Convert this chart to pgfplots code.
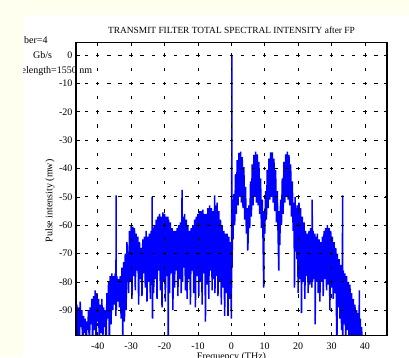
\documentclass[border=0pt]{standalone}
\usepackage{pgfplots}
\pgfplotsset{compat=1.18}
\usepackage{fontspec}
\setmainfont{Liberation Serif}
\definecolor{cream}{RGB}{255,255,240}
\definecolor{mblue}{RGB}{0,0,255}
\pgfplotstableread{
x y
-46.50 -95
-46.25 -88
-46.00 -99
-45.75 -89
-45.50 -103
-45.25 -87
-45.00 -96
-44.75 -90
-44.50 -104
-44.25 -92
-44.00 -98
-43.75 -93
-43.50 -105
-43.25 -94
-43.00 -97
-42.75 -90
-42.50 -104
-42.25 -89
-42.00 -95
-41.75 -86
-41.50 -103
-41.25 -85
-41.00 -97
-40.75 -83
-40.50 -104
-40.25 -84
-40.00 -94
-39.75 -86
-39.50 -105
-39.25 -88
-39.00 -98
-38.75 -86
-38.50 -103
-38.25 -89
-38.00 -96
-37.75 -90
-37.50 -104
-37.25 -84
-37.00 -93
-36.75 -80
-36.50 -105
-36.25 -78
-36.00 -95
-35.75 -77
-35.50 -90
-35.25 -78
-35.00 -88
-34.75 -77
-34.55 -92
-34.50 -49.5
-34.45 -90
-34.25 -78
-34.00 -87
-33.75 -79
-33.50 -89
-33.25 -78
-33.00 -93
-32.75 -75
-32.50 -99
-32.25 -73
-32.00 -94
-31.75 -70
-31.50 -90
-31.25 -66
-30.75 -84
-30.50 -62
-30.25 -80
-30.00 -60
-29.75 -86
-29.50 -60.5
-29.25 -78
-29.00 -61
-28.75 -83
-28.50 -63
-28.25 -76
-28.00 -64
-27.75 -88
-27.50 -66
-27.25 -79
-27.00 -68
-26.75 -85
-26.50 -65
-26.25 -77
-26.00 -64
-25.75 -82
-25.50 -62
-25.25 -87
-25.00 -64
-24.75 -80
-24.50 -63
-24.25 -86
-24.00 -62
-23.80 -78
-23.70 -50
-23.60 -93
-23.50 -61
-23.25 -84
-23.00 -60
-22.75 -79
-22.50 -58
-22.25 -86
-22.00 -57
-21.75 -76
-21.50 -56
-21.25 -83
-21.00 -57
-20.75 -89
-20.50 -55.5
-20.25 -80
-20.00 -56
-19.75 -87
-19.50 -57
-19.25 -78
-19.00 -57
-18.90 -105
-18.75 -58
-18.50 -84
-18.25 -59
-18.00 -77
-17.75 -61
-17.50 -90
-17.25 -62
-17.00 -82
-16.75 -62
-16.50 -76
-16.25 -61
-16.00 -85
-15.75 -60
-15.50 -79
-15.25 -59
-15.00 -84
-14.75 -47.5
-14.60 -80
-14.50 -57
-14.25 -75
-14.00 -56
-13.75 -83
-13.50 -58
-13.25 -86
-13.00 -60
-12.75 -79
-12.50 -62
-12.25 -88
-12.00 -61
-11.75 -76
-11.50 -60
-11.25 -84
-11.00 -58
-10.75 -89
-10.50 -57
-10.25 -78
-10.00 -56
-9.75 -85
-9.50 -55
-9.25 -80
-9.00 -55
-8.75 -88
-8.50 -54.5
-8.25 -77
-8.00 -56
-7.75 -94
-7.50 -56
-7.25 -81
-7.00 -54
-6.75 -86
-6.50 -53
-6.25 -76
-6.00 -54
-5.75 -83
-5.50 -55
-5.25 -79
-5.00 -49.5
-4.90 -84
-4.75 -53
-4.50 -78
-4.25 -52
-4.00 -85
-3.75 -55
-3.50 -80
-3.25 -58
-3.00 -88
-2.75 -60
-2.50 -82
-2.25 -62
-2.00 -92
-1.75 -63
-1.50 -84
-1.25 -63
-1.00 -92
-0.75 -64
-0.50 -86
-0.25 -66
0.00 -93
0.10 -70
0.15 0
0.20 -75
0.35 -62
0.50 -65
0.75 -49
1.00 -60
1.25 -42
1.50 -56
1.75 -37
2.00 -53
2.25 -34.5
2.50 -50
2.75 -34
3.00 -52
3.25 -36
3.50 -54
3.75 -39.5
4.00 -58
4.25 -46.5
4.50 -63
4.75 -54
4.90 -69
5.00 -66
5.25 -53
5.50 -61
5.75 -44.5
6.00 -57
6.25 -38.5
6.50 -53
6.75 -35.2
7.00 -50
7.25 -34
7.50 -52
7.75 -35
8.00 -53
8.25 -37.7
8.50 -56
8.75 -43.5
9.00 -61
9.25 -51
9.50 -66
9.70 -82
9.75 -55
10.00 -63
10.25 -48
10.50 -58
10.75 -40.5
11.00 -54
11.25 -36.5
11.50 -51
11.75 -34.3
12.00 -50
12.25 -34.3
12.50 -52
12.75 -36.5
13.00 -55
13.25 -40.5
13.50 -59
13.75 -48
14.00 -64
14.20 -76
14.25 -55
14.50 -67
14.75 -51
15.00 -60
15.25 -43.5
15.50 -56
15.75 -37.7
16.00 -52
16.25 -35
16.50 -50
16.75 -34
17.00 -51
17.25 -35.2
17.50 -53
17.75 -38.5
18.00 -57
18.25 -44.5
18.50 -62
18.75 -52
18.90 -82
19.10 -50
19.30 -68
19.45 -54
19.60 -72
19.75 -53
20.00 -84
20.25 -52
20.50 -79
20.75 -54
21.00 -91
21.25 -57
21.50 -80
21.75 -59
22.00 -86
22.25 -62
22.50 -78
22.75 -63
23.00 -84
23.25 -62
23.50 -81
23.75 -61
24.10 -82
24.20 -51
24.30 -80
24.50 -62
24.75 -79
25.00 -63
25.10 -95
25.25 -64
25.50 -80
25.75 -63
26.00 -84
26.25 -65
26.50 -87
26.75 -66
27.00 -80
27.25 -64
27.50 -85
27.75 -62
28.00 -79
28.25 -61
28.50 -83
28.75 -60
29.00 -81
29.25 -61
29.50 -90
29.75 -62
30.00 -82
30.25 -64
30.50 -86
30.75 -66
31.00 -84
31.25 -68
31.60 -105
31.75 -70
32.00 -89
32.25 -72
32.50 -93
32.75 -74
33.00 -97
33.25 -75
33.30 -49.5
33.35 -105
33.50 -76
33.75 -95
34.00 -77
34.25 -104
34.50 -78
34.75 -97
35.00 -80
35.25 -105
35.50 -81
35.75 -99
36.00 -84
36.25 -105
36.50 -86
36.75 -103
37.00 -88
37.25 -105
37.50 -90
37.75 -104
38.00 -91
38.25 -105
38.30 -83
38.40 -105
38.60 -93
38.80 -105
39.00 -96
39.20 -105
}\spectrum
\begin{document}
\begin{tikzpicture}[x=1pt,y=1pt]
\path[use as bounding box] (0,0) rectangle (409,357);
\clip (0,0) rectangle (409,357);
\fill[cream] (0,0) rectangle (409,357);
\fill[white] (23,0) rectangle (409,342);
\begin{axis}[
  at={(76pt,21.3pt)}, anchor=south west,
  scale only axis, width=311pt, height=293pt,
  xmin=-46.5, xmax=46.6, ymin=-99, ymax=4.4,
  xtick={-40,-30,...,40}, ytick={-90,-80,...,0},
  tick align=inside, major tick length=3.5pt,
  every tick/.style={black, line width=0.7pt},
  axis line style={line width=1.3pt},
  grid=major,
  x grid style={black, line width=0.75pt, dash pattern=on 3.5pt off 10.67pt, dash phase=4.6pt},
  y grid style={black, line width=0.75pt, dash pattern=on 3.5pt off 7.63pt, dash phase=2.3pt},
  axis on top,
  /pgf/number format/assume math mode=true,
  ticklabel style={font=\fontsize{10}{12}\selectfont},
  xticklabel style={yshift=-3.5pt},
  title={TRANSMIT FILTER TOTAL SPECTRAL INTENSITY after FP},
  title style={at={(axis description cs:0.5,1)}, anchor=base, yshift=3.6pt, inner sep=0pt, font=\fontsize{9.4}{11}\selectfont},
  xlabel={Frequency (THz)},
  xlabel style={at={(axis description cs:0.5,-0.0556)}, anchor=north, inner sep=0pt, font=\fontsize{10}{12}\selectfont},
  ylabel={Pulse intensity (mw)},
  ylabel style={at={(axis description cs:-0.0836,0.46)}, anchor=center, inner sep=0pt, font=\fontsize{10}{12}\selectfont},
]
\addplot[mblue, line width=1.5pt, line join=miter, miter limit=2] table[x=x, y=y] {\spectrum};
\end{axis}
\begin{scope}
\clip (23,0) rectangle (409,342);
\node[anchor=base west, inner sep=0pt, font=\fontsize{10}{12}\selectfont] at (24,313) {ber=4};
\node[anchor=base west, inner sep=0pt, font=\fontsize{10}{12}\selectfont] at (33,298.5) {Gb/s};
\node[anchor=base west, inner sep=0pt, font=\fontsize{10}{12}\selectfont] at (21.5,284) {elength=1550 nm};
\end{scope}
\end{tikzpicture}
\end{document}
